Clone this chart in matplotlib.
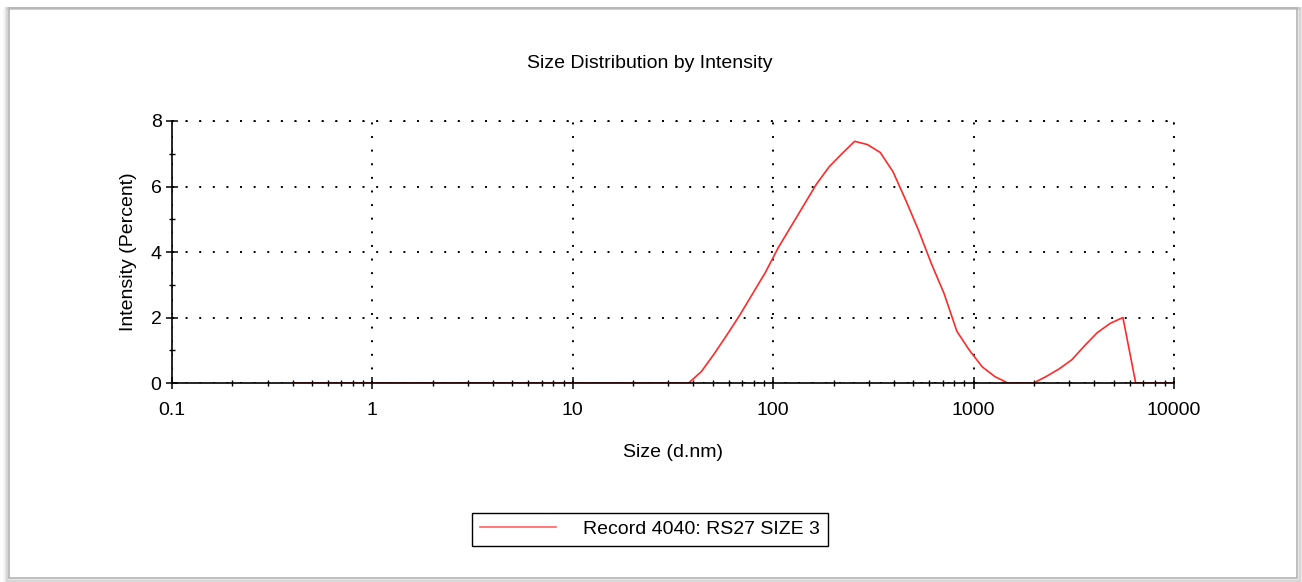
import matplotlib
matplotlib.use("Agg")
import matplotlib.pyplot as plt
from matplotlib.patches import Rectangle
from matplotlib.ticker import LogLocator, FixedLocator, NullFormatter

plt.rcParams['font.family'] = ['Liberation Sans', 'DejaVu Sans']

# size bins (d.nm) and intensity (%) for record 4040
size_nm = [0.4, 0.4632, 0.5365, 0.6213, 0.7195, 0.8332, 0.9649, 1.117, 1.294, 1.499,
           1.736, 2.01, 2.328, 2.696, 3.122, 3.615, 4.187, 4.849, 5.615, 6.503,
           7.531, 8.721, 10.1, 11.7, 13.54, 15.69, 18.17, 21.04, 24.36, 28.21,
           32.67, 37.84, 43.82, 50.75, 58.77, 68.06, 78.82, 91.28, 105.7, 122.4,
           141.8, 164.2, 190.1, 220.2, 255.0, 295.3, 342.0, 396.1, 458.7, 531.2,
           615.1, 712.4, 825.0, 955.4, 1106, 1281, 1484, 1718, 1990, 2305,
           2669, 3091, 3580, 4145, 4801, 5560, 6439, 7456, 8635, 10000]
intensity = [0, 0, 0, 0, 0, 0, 0, 0, 0, 0,
             0, 0, 0, 0, 0, 0, 0, 0, 0, 0,
             0, 0, 0, 0, 0, 0, 0, 0, 0, 0,
             0, 0, 0.35, 0.89, 1.47, 2.07, 2.72, 3.37, 4.12, 4.77,
             5.42, 6.07, 6.6, 7.0, 7.38, 7.28, 7.04, 6.45, 5.58, 4.66,
             3.65, 2.73, 1.58, 0.99, 0.49, 0.19, 0, 0, 0, 0.2,
             0.43, 0.71, 1.14, 1.54, 1.82, 2.0, 0, 0, 0, 0]

record_label = "Record 4040: RS27 SIZE 3"
title = "Size Distribution by Intensity"
x_label = "Size (d.nm)"
y_label = "Intensity (Percent)"
x_ticks = [0.1, 1, 10, 100, 1000, 10000]
x_ticklabels = ["0.1", "1", "10", "100", "1000", "10000"]
y_ticks = [0, 2, 4, 6, 8]

fs = 14

fig = plt.figure(figsize=(13.02, 5.82), dpi=100)
fig.patch.set_facecolor("white")

# window frame with a soft shadow
for i, a in enumerate([0.10, 0.07, 0.04]):
    d = (i + 1) * 0.0012
    fig.patches.append(Rectangle((0.0069 - d, 0.0069 - d * 2.2), 0.9893 + 2 * d, 0.9794 + d * 2.2,
                                 transform=fig.transFigure, fill=False,
                                 edgecolor="black", alpha=a, linewidth=2))
fig.patches.append(Rectangle((0.0069, 0.0069), 0.9893, 0.9794, transform=fig.transFigure,
                             fill=False, edgecolor="#b4b4b4", linewidth=1.2))

ax = fig.add_axes([0.1321, 0.3419, 0.7696, 0.4502])
ax.plot(size_nm, intensity, color="#ff2a2a", linewidth=1.2, label=record_label, zorder=3)

ax.set_xscale("log")
ax.set_xlim(0.1, 10000)
ax.set_ylim(0, 8)

ax.xaxis.set_major_locator(FixedLocator(x_ticks))
ax.set_xticklabels(x_ticklabels)
ax.xaxis.set_minor_locator(LogLocator(base=10, subs=range(2, 10), numticks=20))
ax.xaxis.set_minor_formatter(NullFormatter())
ax.set_yticks(y_ticks)
ax.yaxis.set_minor_locator(FixedLocator([1, 3, 5, 7]))

ax.tick_params(which="major", direction="inout", length=9, width=1.1, labelsize=fs)
ax.tick_params(which="minor", direction="inout", length=5, width=1.0)
ax.tick_params(axis="x", which="major", pad=9)
ax.tick_params(axis="y", which="major", pad=3)

for side in ["top", "right"]:
    ax.spines[side].set_visible(False)
for side in ["left", "bottom"]:
    ax.spines[side].set_linewidth(1.2)
    ax.spines[side].set_zorder(4)

# dotted grid, including the top and right edges
dots = (0, (1, 6))
ax.grid(True, which="major", color="black", linestyle=dots, linewidth=1.4)
ax.axhline(8, color="black", linestyle=dots, linewidth=1.4, clip_on=False)
ax.axvline(10000, color="black", linestyle=dots, linewidth=1.4, clip_on=False)

ax.set_xlabel(x_label, fontsize=fs, labelpad=18)
ax.set_ylabel(y_label, fontsize=fs, labelpad=10)
fig.text(0.4992, 0.891, title, fontsize=fs, ha="center", va="center")

leg = fig.legend(loc="center", bbox_to_anchor=(0.4992, 0.0905), fontsize=fs,
                 fancybox=False, edgecolor="black", framealpha=1,
                 handlelength=3.9, handletextpad=1.4, borderpad=0.4)
leg.get_frame().set_linewidth(1.0)
leg.get_lines()[0].set_color("#ff6060")

fig.savefig("out.png", dpi=100, facecolor="white")
